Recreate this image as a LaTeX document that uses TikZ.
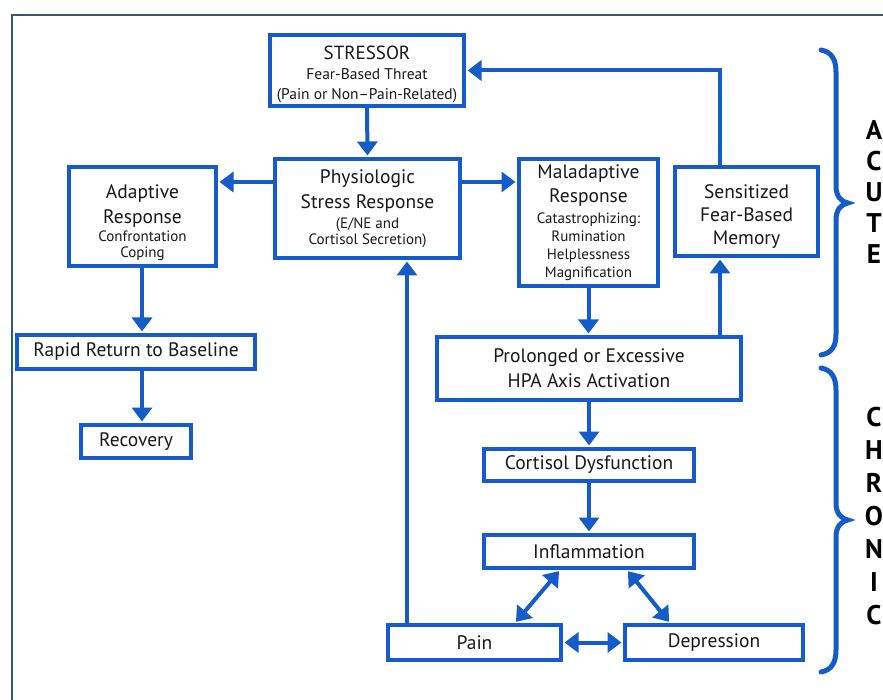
\documentclass[tikz,border=0pt]{standalone}
\usepackage{fontspec}
\setmainfont{PT Sans}
\usetikzlibrary{arrows.meta}
\definecolor{dblue}{RGB}{22,92,200}
\definecolor{framec}{RGB}{50,90,120}
\definecolor{txt}{RGB}{25,25,25}
\newcommand{\subf}{\fontsize{15}{17}\selectfont}
\newcommand{\subs}{\fontsize{15.5}{17}\selectfont}
\tikzset{
  box/.style={draw=dblue, line width=4pt, fill=white, align=center, text=txt, inner sep=0pt, font=\fontsize{19.5}{24}\selectfont},
  boxtext/.style={align=center, text=txt, inner sep=0pt, font=\fontsize{19.5}{24}\selectfont},
  arr/.style={draw=dblue, line width=4pt, shorten >=1.5pt, -{Triangle[width=20pt,length=14pt]}},
  darr/.style={draw=dblue, line width=4pt, shorten >=1.5pt, shorten <=1.5pt, {Triangle[width=20pt,length=14pt]}-{Triangle[width=20pt,length=14pt]}},
  bracestyle/.style={draw=dblue, line width=5pt, line cap=round},
  side/.style={font=\fontsize{27}{30}\selectfont\bfseries, text=black, inner sep=0pt},
  framestyle/.style={draw=framec, line width=2.5pt}
}
\begin{document}
\begin{tikzpicture}[x=1pt,y=-1pt]
\useasboundingbox (0,0) rectangle (883,700);
\fill[white] (0,0) rectangle (883,700);
% frame
\draw[framestyle] (12,700) -- (12,15) -- (883,15);

% nodes
\node[box, minimum width=194, minimum height=71] (stressor) at (367,70.5) {};
\node[boxtext] (stressor-t) at (367,74.5)
  {{\fontsize{19}{20}\selectfont STRESSOR}\\[-4pt]{\subs Fear-Based Threat}\\[-4pt]{\subs (Pain or Non–Pain-Related)}};
\node[box, minimum width=185, minimum height=99] (phys) at (367.5,208.5)
  {Physiologic\\[1pt]Stress Response\\[-4pt]{\subf (E/NE and}\\[-8pt]{\subf Cortisol Secretion)}};
\node[box, minimum width=139, minimum height=127] (mal) at (588.5,222.5)
  {Maladaptive\\[0pt]Response\\[-3pt]{\subf Catastrophizing:}\\[-6pt]{\subf Rumination}\\[-6pt]{\subf Helplessness}\\[-6pt]{\subf Magnification}};
\node[box, minimum width=143, minimum height=89] (sens) at (746.5,211.5) {};
\node[boxtext] (sens-t) at (746.5,216.5) {Sensitized\\[-1pt]Fear-Based\\[-1pt]Memory};
\node[box, minimum width=147, minimum height=99] (adapt) at (142.5,216.5) {};
\node[boxtext] (adapt-t) at (142.5,223)
  {Adaptive\\[1pt]Response\\[-6pt]{\subf Confrontation}\\[-8pt]{\subf Coping}};
\node[box, minimum width=238, minimum height=34] (rapid) at (136,352) {Rapid Return to Baseline};
\node[box, minimum width=110, minimum height=33] (recov) at (136,441.5) {Recovery};
\node[box, minimum width=304, minimum height=63] (prol) at (589,368.5)
  {Prolonged or Excessive\\[1pt]HPA Axis Activation};
\node[box, minimum width=210, minimum height=32] (cort) at (589,465) {Cortisol Dysfunction};
\node[box, minimum width=210, minimum height=33] (infl) at (589,551.5) {Inflammation};
\node[box, minimum width=173, minimum height=35] (pain) at (474.5,642.5) {Pain};
\node[box, minimum width=178, minimum height=35] (dep) at (714,642.5) {Depression};

% helper coordinates
\coordinate (sk) at (720,72);
\coordinate (pk) at (407,0);
\coordinate (ak) at (142,0);

% connectors
\draw[arr] (stressor.south) -- (phys.north);
\draw[arr] (phys.west |- 0,182) -- (adapt.east |- 0,182);
\draw[arr] (phys.east |- 0,182) -- (mal.west |- 0,182);
\draw[arr] (adapt.south -| ak) -- (rapid.north -| ak);
\draw[arr] (rapid.south -| ak) -- (recov.north -| ak);
\draw[arr] (mal.south) -- (prol.north -| mal.south);
\draw[arr] (prol.north -| sk) -- (sens.south -| sk);
\draw[arr] (sens.north -| sk) |- (stressor.east);
\draw[arr] (pain.north -| pk) -- (phys.south -| pk);
\draw[arr] (prol.south) -- (cort.north);
\draw[arr] (cort.south) -- (infl.north);
\draw[darr] ([xshift=-29pt]infl.south) -- ([xshift=40.5pt]pain.north);
\draw[darr] ([xshift=38pt]infl.south) -- ([xshift=-44pt]dep.north);
\draw[darr] (pain.east) -- (dep.west);

% braces
\draw[bracestyle] (821,50) .. controls (832,52) and (836,60) .. (836,72) -- (836,186)
  .. controls (836,196) and (841,202) .. (848,203)
  .. controls (841,204) and (836,210) .. (836,220) -- (836,334)
  .. controls (836,346) and (832,353) .. (821,355);
\draw[bracestyle] (821,368) .. controls (832,370) and (836,378) .. (836,390) -- (836,503)
  .. controls (836,513) and (841,519) .. (848,520)
  .. controls (841,521) and (836,527) .. (836,537) -- (836,650)
  .. controls (836,662) and (832,670) .. (821,672);

% side labels
\node[side] (a1) at (874,130) {A};
\node[side] (a2) at (874,161) {C};
\node[side] (a3) at (874,192) {U};
\node[side] (a4) at (874,223) {T};
\node[side] (a5) at (874,254) {E};
\node[side] (c1) at (874,417) {C};
\node[side] (c2) at (874,450) {H};
\node[side] (c3) at (874,483) {R};
\node[side] (c4) at (874,516) {O};
\node[side] (c5) at (874,549) {N};
\node[side] (c6) at (874,582) {I};
\node[side] (c7) at (874,615) {C};
\end{tikzpicture}
\end{document}
